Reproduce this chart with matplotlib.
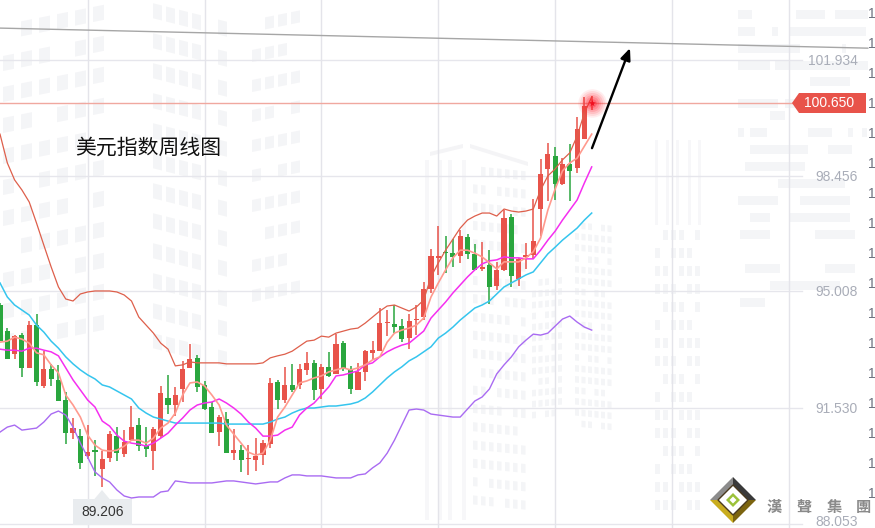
import matplotlib
matplotlib.use("Agg")
import matplotlib.pyplot as plt
from matplotlib.patches import Polygon, Rectangle

high = [94.66,93.91,93.70,93.76,94.12,94.33,93.22,92.84,92.81,92.00,91.22,90.89,91.01,90.56,90.23,90.83,90.95,90.86,91.58,91.22,
        90.95,90.95,92.18,92.51,92.15,92.93,93.43,93.10,92.33,91.70,91.31,91.40,90.89,90.41,90.41,90.62,90.56,92.42,92.36,92.75,
        92.84,92.84,93.19,92.96,92.84,93.19,93.73,93.52,92.78,92.87,93.25,93.52,94.51,94.45,94.60,94.18,94.33,94.60,95.29,96.27,
        96.96,96.66,96.57,96.84,96.72,96.42,96.48,96.24,95.89,97.44,97.32,96.00,96.45,97.77,98.97,99.44,99.32,98.99,99.41,100.22,
        100.82,100.85]
low = [93.52,92.99,92.99,92.45,92.72,92.18,92.12,92.18,91.73,90.44,90.59,89.70,89.99,89.49,89.16,89.91,89.94,90.05,90.56,90.23,
       90.05,89.67,90.62,91.34,91.28,91.70,92.72,92.00,91.46,90.77,90.38,90.17,89.97,89.61,89.52,89.64,89.82,90.32,91.49,91.67,
       92.00,92.09,92.51,91.76,91.79,92.45,92.54,92.63,91.94,92.06,92.33,92.96,93.22,93.67,93.76,93.49,93.28,93.70,94.15,94.96,
       95.50,95.56,95.74,95.86,95.98,95.65,95.62,94.63,95.05,95.62,95.14,95.17,95.68,95.98,96.66,97.71,97.74,98.19,97.71,98.55,
       99.56,100.43]
open_ = [94.60,93.82,93.13,93.70,92.72,94.00,92.18,92.69,92.36,91.76,90.77,90.68,90.08,90.26,89.70,90.03,90.68,90.14,90.56,91.01,
         90.38,90.23,90.68,91.82,91.61,92.09,92.72,93.02,92.21,91.55,90.80,91.19,90.17,90.26,90.00,89.97,90.11,90.44,92.30,91.76,
         92.21,92.21,92.66,92.87,92.09,92.75,92.54,93.46,92.69,92.06,92.60,93.16,93.22,94.06,94.03,93.97,93.61,94.15,94.24,95.08,
         96.01,96.19,96.16,96.07,96.63,96.13,95.68,95.80,95.17,95.65,97.23,95.38,96.04,96.10,97.47,98.67,99.05,98.22,98.81,98.70,
         99.56,100.63]
close = [93.52,92.99,93.67,92.72,94.00,92.30,92.69,92.39,91.73,90.77,90.92,89.88,90.20,90.20,89.99,90.74,90.17,90.50,90.95,90.38,
         90.29,90.89,91.97,91.61,91.91,92.69,92.99,92.15,91.49,90.77,91.25,90.17,90.26,89.97,90.03,90.08,90.47,92.27,91.76,92.21,
         92.06,92.69,92.87,92.06,92.75,92.48,93.43,92.69,92.09,92.60,93.22,93.25,94.06,94.09,93.94,93.58,94.12,94.18,95.08,96.07,
         96.07,96.16,96.04,96.66,96.13,95.65,95.74,95.14,95.65,97.20,95.47,95.98,96.10,96.51,98.52,99.11,98.22,98.81,98.61,99.86,
         100.55,100.65]
upper_band = [99.71,98.85,98.34,98.04,97.68,97.05,96.39,95.74,95.14,94.78,94.72,94.93,94.99,95.02,95.02,95.02,94.99,94.90,94.72,94.24,
              94.00,93.76,93.46,93.28,92.78,92.81,92.90,92.87,92.87,92.87,92.87,92.84,92.84,92.84,92.84,92.84,92.87,93.02,93.08,93.13,
              93.22,93.37,93.52,93.55,93.67,93.64,93.76,93.82,93.88,93.91,94.06,94.24,94.42,94.57,94.60,94.51,94.42,94.54,94.75,95.44,
              95.86,96.24,96.57,96.90,97.14,97.26,97.35,97.35,97.26,97.47,97.41,97.38,97.41,97.47,98.04,98.46,98.67,98.94,99.15,99.65,
              100.34,100.82]
ma_fast = [93.49,93.52,93.64,93.58,93.46,93.17,93.11,92.81,92.57,91.91,91.61,91.25,90.71,90.41,90.26,90.23,90.26,90.38,90.56,90.56,
           90.47,90.62,90.92,91.07,91.37,91.91,92.27,92.30,92.18,91.91,91.61,91.01,90.74,90.47,90.20,90.11,90.17,90.56,91.25,91.55,
           91.91,92.27,92.33,92.42,92.48,92.60,92.66,92.72,92.66,92.72,92.81,92.96,93.05,93.49,93.76,93.85,93.91,94.00,94.21,94.84,
           95.26,95.65,96.01,96.24,96.24,96.15,96.04,95.86,95.68,95.89,95.89,95.89,96.01,96.19,96.60,97.44,98.07,98.61,98.85,98.99,
           99.35,99.71]
ma_mid = [93.28,93.25,93.25,93.22,93.31,93.31,93.25,93.20,93.08,92.72,92.36,92.06,91.76,91.55,91.13,90.98,90.71,90.53,90.47,90.44,
          90.38,90.47,90.62,90.77,91.01,91.22,91.46,91.61,91.67,91.70,91.79,91.67,91.52,91.34,91.10,90.92,90.68,90.68,90.71,90.86,
          90.95,91.31,91.52,91.67,91.91,92.15,92.48,92.51,92.57,92.63,92.81,92.87,93.05,93.20,93.31,93.40,93.46,93.64,93.82,94.21,
          94.45,94.69,94.96,95.20,95.44,95.65,95.83,95.92,95.95,96.04,96.01,96.01,95.98,95.98,96.24,96.54,96.81,97.14,97.44,97.74,
          98.25,98.73]
ma_slow = [95.26,94.84,94.60,94.45,94.30,94.00,93.79,93.52,93.31,93.05,92.84,92.66,92.51,92.39,92.21,92.15,92.03,91.91,91.79,91.52,
           91.37,91.25,91.19,91.13,91.07,91.07,91.07,91.07,91.07,91.07,91.07,91.04,91.04,91.04,91.04,91.04,91.04,91.10,91.19,91.25,
           91.37,91.46,91.52,91.52,91.55,91.58,91.58,91.61,91.64,91.70,91.82,92.00,92.21,92.42,92.60,92.75,92.93,93.05,93.20,93.35,
           93.61,93.76,93.94,94.15,94.33,94.51,94.60,94.72,94.93,95.14,95.26,95.38,95.50,95.59,95.86,96.13,96.33,96.54,96.72,96.90,
           97.14,97.35]
lower_band = [90.80,90.95,91.01,90.86,90.89,90.92,91.10,91.34,91.43,91.31,90.95,90.47,90.05,89.61,89.43,89.31,89.07,88.89,88.83,88.86,
              88.86,88.86,89.01,89.04,89.34,89.31,89.28,89.28,89.28,89.28,89.31,89.34,89.34,89.31,89.28,89.25,89.28,89.31,89.31,89.43,
              89.52,89.52,89.49,89.49,89.49,89.46,89.43,89.43,89.43,89.52,89.55,89.73,89.88,90.17,90.56,91.01,91.46,91.49,91.46,91.34,
              91.31,91.28,91.25,91.25,91.49,91.73,91.85,92.09,92.54,92.81,93.05,93.35,93.55,93.73,93.70,93.76,93.97,94.18,94.27,94.09,
              93.94,93.85]
price_ticks = [101.934, 98.456, 95.008, 91.530, 88.053]
time_grid = [12, 28, 44, 60, 76, 92, 108]
last_price = 100.650
low_price = 89.206
trend_x = [0, 118.8]
trend_y = [102.88, 102.28]
arrow_x = [81.04, 86.24]
arrow_y = [99.29, 102.28]
title = "美元指数周线图"

W, H = 875, 528
RED, GREEN = "#E8534A", "#2AA63E"
plt.rcParams["font.family"] = ["Liberation Sans", "DejaVu Sans"]
fig = plt.figure(figsize=(W / 100, H / 100), dpi=100, facecolor="white")

# ---- watermark layer (pixel space)
bg = fig.add_axes([0, 0, 1, 1], zorder=0)
bg.set_xlim(0, W); bg.set_ylim(H, 0); bg.axis("off")
WM = "#F4F5F7"


def blocks(x0, x1, dx, y0, y1, dy, w, h, slope, skip=7):
    c = 0
    x = x0
    while x <= x1:
        y = y0
        r = 0
        while y <= y1:
            if (c * 3 + r * 5) % skip != 0:
                yy = y + (x - x0) * slope
                bg.add_patch(Polygon([(x, yy), (x + w, yy + w * slope), (x + w, yy + w * slope + h), (x, yy + h)],
                                     fc=WM, ec="none"))
            y += dy
            r += 1
        x += dx
        c += 1


blocks(3, 100, 18, 25, 340, 31, 11, 15, -0.2)
blocks(140, 222, 13, 0, 330, 30, 9, 15, 0.25, skip=5)
blocks(252, 297, 13, 20, 300, 30, 9, 12, -0.2)
blocks(473, 522, 8, 166, 500, 18.3, 4.5, 9, 0.1, skip=11)
blocks(532, 562, 6.5, 280, 420, 11, 4, 6.5, -0.1, skip=9)
blocks(575, 610, 6.5, 222, 420, 11, 4, 6.5, 0.1, skip=9)
blocks(655, 700, 8, 230, 500, 18, 5, 10, 0, skip=4)
for x in (425, 438, 448, 462):
    bg.add_patch(Rectangle((x, 160), 4, 360, fc="#F7F7F9", ec="none"))
bg.add_patch(Polygon([(430, 152), (463, 144), (463, 148), (430, 156)], fc="#F4F4F6", ec="none"))
bg.add_patch(Polygon([(470, 144), (528, 162), (528, 166), (470, 148)], fc="#F4F4F6", ec="none"))
for x in (655, 666, 676, 688, 698):
    bg.add_patch(Rectangle((x, 140), 3, 85, fc="#F7F7F9", ec="none"))
bars = [(14, 738, 14), (14, 796, 29), (14, 835, 33), (31, 738, 17), (31, 772, 6), (31, 790, 76),
        (48, 738, 62), (48, 842, 4), (65, 738, 32), (65, 775, 93), (81, 810, 40), (103, 738, 40),
        (103, 785, 15), (115, 770, 15), (132, 738, 6), (132, 750, 17), (132, 808, 24), (132, 848, 5),
        (132, 862, 5), (149, 750, 58), (149, 828, 24), (166, 745, 60), (183, 778, 67), (200, 738, 40),
        (200, 800, 50), (217, 750, 20), (217, 790, 60), (234, 740, 30), (234, 815, 40), (268, 745, 35),
        (268, 825, 30), (285, 770, 70), (302, 740, 25)]
for y, x, w in bars:
    bg.add_patch(Rectangle((x, y - 4.5), w, 9, fc=WM, ec="none"))

# ---- chart layer
ax = fig.add_axes([0, 0, 1, 1], zorder=1)
ax.patch.set_alpha(0)
ax.set_xlim(0, W / 7.305)
ax.set_ylim(103.72 - 0.0299 * H, 103.72)
ax.axis("off")

grid_end = 802 / W
for t in price_ticks:
    ax.plot([0, grid_end], [t, t], transform=ax.get_yaxis_transform(), color="#E6E6EC", lw=1.0, zorder=1)
for i in time_grid:
    ax.axvline(i, color="#E4E4EA", lw=1.0, zorder=1)
ax.plot([0, 792 / W], [last_price, last_price], transform=ax.get_yaxis_transform(),
        color="#F0A89F", lw=1.0, zorder=1)
ax.plot(trend_x, trend_y, color="#A6A6A6", lw=1.0, zorder=2)

idx = list(range(len(close)))
colors = [RED if c >= o else GREEN for o, c in zip(open_, close)]
ax.vlines(idx, low, high, colors=colors, lw=1.1, zorder=3)
ax.bar(idx, [max(abs(c - o), 0.04) for o, c in zip(open_, close)],
       bottom=[min(o, c) for o, c in zip(open_, close)], width=0.7, color=colors, lw=0, zorder=3)

ax.plot(idx, upper_band, color="#DE5F4B", lw=0.9, zorder=4)
ax.plot(idx, lower_band, color="#A96BF2", lw=1.0, zorder=4)
ax.plot(idx, ma_slow, color="#35C5EE", lw=1.1, zorder=4)
ax.plot(idx, ma_mid, color="#F52FF0", lw=1.1, zorder=4)
ax.plot(idx, ma_fast, color="#FF9A8E", lw=1.2, zorder=4)

for s, a in ((420, .08), (320, .10), (230, .13), (150, .16), (90, .2), (40, .3)):
    ax.scatter(idx[-1], last_price, s=s, color="#FF2030", alpha=a, lw=0, zorder=5)
ax.scatter(idx[-1], last_price, s=26, marker="*", color="#F01020", lw=0, zorder=6)

ax.annotate("", xy=(arrow_x[1], arrow_y[1]), xytext=(arrow_x[0], arrow_y[0]), zorder=6,
            arrowprops=dict(arrowstyle="-|>,head_length=0.7,head_width=0.3", color="black", lw=1.7,
                            shrinkA=0, shrinkB=0))

for t in price_ticks:
    yt = max(t - 0.03, 88.11)
    ax.text(858 / W, yt, f"{t:.3f}", transform=ax.get_yaxis_transform(), ha="right", va="center",
            fontsize=10, color="#A9ADB8", zorder=7)

# low-price callout
fg = fig.add_axes([0, 0, 1, 1], zorder=2)
fg.patch.set_alpha(0)
fg.set_xlim(0, W); fg.set_ylim(H, 0); fg.axis("off")
fg.add_patch(Rectangle((73, 499), 59, 26, fc="#E9ECEF", ec="none"))
fg.add_patch(Polygon([(94, 499.5), (102, 490), (110, 499.5)], fc="#E9ECEF", ec="none"))
fg.text(102.5, 512, f"{low_price:.3f}", ha="center", va="center", fontsize=10, color="#333333")

# last-price tag
fg.add_patch(Polygon([(792, 103), (799, 93), (866, 93), (866, 113), (799, 113)], fc=RED, ec="none"))
fg.text(829.5, 103, f"{last_price:.3f}", ha="center", va="center", fontsize=10, color="white")

# right-axis labels, of which the reference shows only the first digit
for k in range(17):
    fg.text(868, 13.5 + 30 * k, "1", ha="left", va="center", fontsize=10, color="#6E7280")

fg.text(75, 148, title, ha="left", va="center", fontsize=15, color="#111111",
        family=["Noto Sans CJK SC", "DejaVu Sans"])

# logo
cx, cy, r = 733, 500, 23
fg.add_patch(Polygon([(cx - r, cy), (cx, cy - r), (cx, cy - r + 8), (cx - r + 8, cy)], fc="#8C8C8C", ec="none"))
fg.add_patch(Polygon([(cx, cy - r), (cx + r, cy), (cx + r - 8, cy), (cx, cy - r + 8)], fc="#3A3A3A", ec="none"))
fg.add_patch(Polygon([(cx - r, cy), (cx, cy + r), (cx, cy + r - 8), (cx - r + 8, cy)], fc="#C9AC1E", ec="none"))
fg.add_patch(Polygon([(cx + r, cy), (cx, cy + r), (cx, cy + r - 8), (cx + r - 8, cy)], fc="#7C6410", ec="none"))
fg.add_patch(Polygon([(cx - 15, cy), (cx, cy - 15), (cx + 15, cy), (cx, cy + 15)], fc="white", ec="none"))
fg.add_patch(Polygon([(cx - 15, cy), (cx, cy - 15), (cx + 15, cy), (cx, cy + 15)], fc="none", ec="#4A3A20", lw=1.0))
fg.add_patch(Polygon([(cx - 7, cy), (cx, cy - 7), (cx + 7, cy), (cx, cy + 7)], fc="#9CC23A", ec="none"))
fg.add_patch(Polygon([(cx - 3.5, cy), (cx, cy - 3.5), (cx + 3.5, cy), (cx, cy + 3.5)], fc="white", ec="none"))
for x, ch in zip((774, 804, 834, 863), "漢聲集團"):
    fg.text(x, 507, ch, ha="center", va="center", fontsize=11, color="#8A8A8A", fontweight="bold",
            family=["Noto Sans CJK TC", "DejaVu Sans"])

fig.savefig("out.png", dpi=100, facecolor="white")
